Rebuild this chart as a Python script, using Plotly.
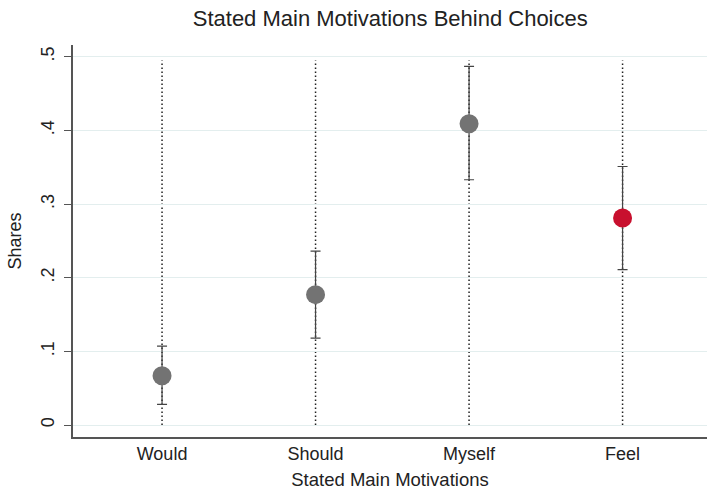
import plotly.graph_objects as go

categories = ["Would", "Should", "Myself", "Feel"]
shares = [0.067, 0.177, 0.409, 0.281]
ci_low = [0.028, 0.118, 0.333, 0.211]
ci_high = [0.107, 0.236, 0.487, 0.351]
colors = ["#737373", "#737373", "#737373", "#C8102E"]
y_ticks = [0, 0.1, 0.2, 0.3, 0.4, 0.5]
y_ticklabels = ["0", ".1", ".2", ".3", ".4", ".5"]

err_plus = [h - v for h, v in zip(ci_high, shares)]
err_minus = [v - l for l, v in zip(ci_low, shares)]

fig = go.Figure()

# dotted vertical reference lines at each category
for c in categories:
    fig.add_shape(type="line", xref="x", yref="y", x0=c, x1=c, y0=0, y1=0.495,
                  line=dict(color="#222222", width=1.5, dash="1.5px,2.5px"), layer="below")

fig.add_trace(go.Scatter(
    x=categories, y=shares, mode="markers",
    marker=dict(size=19, color=colors, line=dict(width=0)),
    error_y=dict(type="data", symmetric=False, array=err_plus, arrayminus=err_minus,
                 color="#444444", thickness=1.2, width=5),
    showlegend=False,
))

font = "Liberation Sans, Arial, sans-serif"
fig.update_layout(
    width=707, height=490,
    margin=dict(l=73, r=0, t=45, b=53),
    paper_bgcolor="white", plot_bgcolor="white",
    font=dict(family=font, color="#222222", size=18),
    title=dict(text="Stated Main Motivations Behind Choices", x=0.552, xanchor="center",
               y=0.963, yanchor="middle", font=dict(size=22, color="#222222")),
    xaxis=dict(
        type="category", range=[-0.58, 3.55],
        showgrid=False, zeroline=False,
        showline=True, linecolor="#555555", linewidth=1.5,
        ticks="", tickfont=dict(size=18),
        title=dict(text="Stated Main Motivations", font=dict(size=18.5), standoff=10),
    ),
    yaxis=dict(
        range=[-0.0163, 0.516],
        tickvals=y_ticks, ticktext=y_ticklabels, tickangle=-90,
        showgrid=True, gridcolor="#E3EEEE", gridwidth=1,
        zeroline=False,
        showline=True, linecolor="#555555", linewidth=1.5,
        ticks="outside", ticklen=7, tickcolor="#555555",
        tickfont=dict(size=18), ticklabelstandoff=3,
        title=dict(text="Shares", font=dict(size=18), standoff=12),
    ),
)

fig.write_html("out.html")
